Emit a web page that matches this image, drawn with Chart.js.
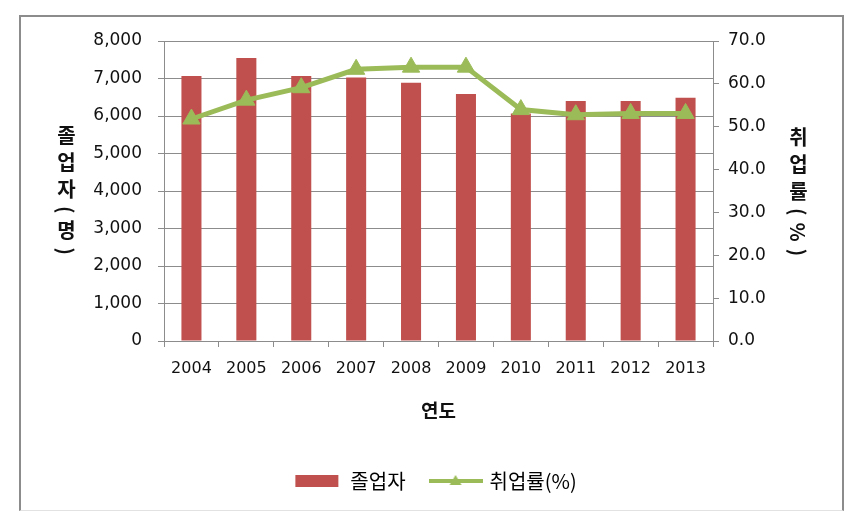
<!DOCTYPE html>
<html>
<head>
<meta charset="utf-8">
<script src="https://cdn.jsdelivr.net/npm/chart.js@4"></script>
<style>
  body { margin: 0; background: #fff; }
  #wrap { position: relative; width: 855px; height: 522px; }
  #frame {
    position: absolute; left: 19px; top: 15px; width: 825px; height: 496px;
    border-left: 2px solid #8c8c8c; border-top: 2px solid #8c8c8c; border-right: 2px solid #8c8c8c;
    border-bottom: 1px solid #e2e2e2; box-sizing: border-box;
  }
  canvas { position: absolute; left: 0; top: 0; }
  .vtitle {
    position: absolute; writing-mode: vertical-rl;
    font: bold 20px "Noto Sans CJK KR", sans-serif; color: #111;
    line-height: 22px; letter-spacing: 7px;
  }
</style>
</head>
<body>
<div id="wrap">
  <div id="frame"></div>
  <canvas id="grad_chart" width="855" height="522"></canvas>
  <div class="vtitle" style="left:55px; top:125px;">졸업자(명)</div>
  <div class="vtitle" style="left:787px; top:127px;">취업률(%)</div>
</div>
<script>
// years on the x axis
const years = ['2004', '2005', '2006', '2007', '2008', '2009', '2010', '2011', '2012', '2013'];
// graduates (명) - bars, left axis
const graduates = [7070, 7550, 7070, 7030, 6890, 6590, 6070, 6400, 6400, 6490];
// employment rate (%) - line, right axis
const employRate = [51.8, 56.2, 59.1, 63.4, 63.9, 63.9, 54.0, 52.8, 53.1, 53.1];

const barColor = '#C0504D';
const lineColor = '#9BBB59';
const gridColor = '#8c8c8c';

// small pictures for the legend keys (box / line with triangle)
function legendBox() {
    const c = document.createElement('canvas');
    c.width = 48; c.height = 14;
    const g = c.getContext('2d');
    g.fillStyle = barColor;
    g.fillRect(3, 1, 43, 12);
    return c;
}
function legendLine() {
    const c = document.createElement('canvas');
    c.width = 54; c.height = 16;
    const g = c.getContext('2d');
    g.strokeStyle = lineColor;
    g.lineWidth = 4;
    g.beginPath(); g.moveTo(0, 8); g.lineTo(54, 8); g.stroke();
    g.fillStyle = lineColor;
    g.beginPath(); g.moveTo(27, 2); g.lineTo(33, 12); g.lineTo(21, 12); g.closePath(); g.fill();
    return c;
}

const ctx = document.getElementById('grad_chart').getContext('2d');
const grad_chart = new Chart(ctx, {
    type: 'bar',
    data: {
        labels: years,
        datasets: [{
            type: 'bar',
            label: '졸업자',
            data: graduates,
            backgroundColor: barColor,
            yAxisID: 'y',
            barPercentage: 0.365,
            categoryPercentage: 1,
            order: 1
        }, {
            type: 'line',
            label: '취업률(%)',
            data: employRate,
            borderColor: lineColor,
            backgroundColor: lineColor,
            borderWidth: 5,
            pointStyle: 'triangle',
            pointRadius: 10,
            pointBackgroundColor: lineColor,
            pointBorderColor: lineColor,
            pointBorderWidth: 1,
            yAxisID: 'y1',
            tension: 0,
            order: 0
        }]
    },
    options: {
        responsive: false,
        animation: false,
        layout: { padding: { left: 14, right: 0, top: 41, bottom: 21 } },
        plugins: {
            tooltip: { enabled: false },
            legend: {
                position: 'bottom',
                labels: {
                    usePointStyle: true,
                    pointStyleWidth: 48,
                    padding: 26,
                    color: '#111',
                    font: { family: '"Noto Sans CJK KR", sans-serif', size: 20 },
                    generateLabels: function (chart) {
                        return [
                            { text: '졸업자', pointStyle: legendBox(), fillStyle: barColor, strokeStyle: barColor, lineWidth: 0, datasetIndex: 0 },
                            { text: '취업률(%)', pointStyle: legendLine(), fillStyle: lineColor, strokeStyle: lineColor, lineWidth: 0, datasetIndex: 1 }
                        ];
                    }
                }
            }
        },
        scales: {
            x: {
                grid: { offset: true, drawOnChartArea: false, drawTicks: true, tickLength: 6, color: gridColor },
                border: { color: gridColor, width: 1 },
                ticks: { color: '#111', padding: 12, font: { family: '"DejaVu Sans", sans-serif', size: 16 } },
                title: {
                    display: true, text: '연도', color: '#111',
                    font: { family: '"Noto Sans CJK KR", sans-serif', size: 19, weight: 'bold' },
                    padding: { top: 0, bottom: 23 }
                },
                afterFit: function (scale) { scale.height = 104; }
            },
            y: {
                position: 'left',
                min: 0, max: 8000,
                grid: { color: gridColor, tickLength: 6 },
                border: { color: gridColor, width: 1 },
                ticks: {
                    stepSize: 1000, padding: 16, color: '#111',
                    font: { family: '"DejaVu Sans", sans-serif', size: 17 },
                    callback: function (v) { return v.toLocaleString('en-US'); }
                },
                afterFit: function (scale) { scale.width = 150; }
            },
            y1: {
                position: 'right',
                min: 0, max: 70,
                grid: { drawOnChartArea: false, color: gridColor, tickLength: 6 },
                border: { color: gridColor, width: 1 },
                ticks: {
                    stepSize: 10, padding: 9, color: '#111',
                    font: { family: '"DejaVu Sans", sans-serif', size: 17 },
                    callback: function (v) { return v.toFixed(1); }
                },
                afterFit: function (scale) { scale.width = 142; }
            }
        }
    }
});
</script>
</body>
</html>
